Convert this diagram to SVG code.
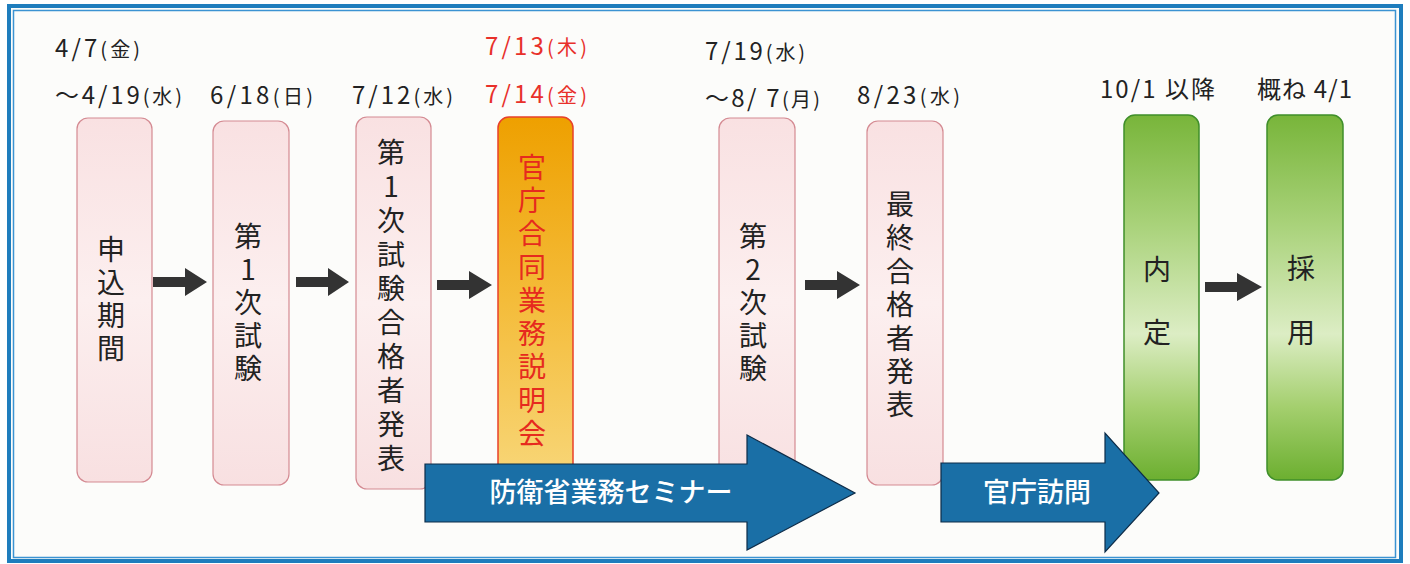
<svg xmlns="http://www.w3.org/2000/svg" width="1410" height="564" viewBox="0 0 1410 564">
<style>
.date{font-family:"Noto Sans CJK JP","Noto Sans",sans-serif;font-size:24px;fill:#222}
.date .wd{font-size:20px}
.red{fill:#e8302a}
.vt{font-family:"Noto Sans CJK JP",sans-serif;font-size:28px;fill:#222;text-anchor:middle}
.vt.redt{fill:#e62a1e}
.pink{fill:url(#gPink);stroke:#d48a92;stroke-width:1.2}
.orange{fill:url(#gOrange);stroke:#e8402a;stroke-width:1.5}
.green{fill:url(#gGreen);stroke:#3f8f2a;stroke-width:1.5}
.sarrow{fill:#333}
.barrow{fill:#1a6fa6;stroke:#0d2c48;stroke-width:1.2}
.blabel{font-family:"Noto Sans CJK JP",sans-serif;font-size:27px;font-weight:500;fill:#fff;text-anchor:middle}
</style>
<defs>
<linearGradient id="gPink" x1="0" y1="0" x2="0" y2="1">
<stop offset="0" stop-color="#f9e1e2"/>
<stop offset="0.5" stop-color="#fcefef"/>
<stop offset="1" stop-color="#f8e0e1"/>
</linearGradient>
<linearGradient id="gOrange" x1="0" y1="0" x2="0" y2="1">
<stop offset="0" stop-color="#eea000"/>
<stop offset="0.5" stop-color="#f4bc3a"/>
<stop offset="1" stop-color="#f8d77a"/>
</linearGradient>
<linearGradient id="gGreen" x1="0" y1="0" x2="0" y2="1">
<stop offset="0" stop-color="#78b53a"/>
<stop offset="0.3" stop-color="#a9d27a"/>
<stop offset="0.6" stop-color="#dcedc4"/>
<stop offset="0.8" stop-color="#a4cf6e"/>
<stop offset="1" stop-color="#6caf30"/>
</linearGradient>
</defs>

<rect x="0" y="0" width="1410" height="564" fill="#ffffff"/>
<rect x="9" y="6" width="1392" height="555" fill="#fcfcfa" stroke="#1e7dbd" stroke-width="4"/>
<rect x="13.5" y="10.5" width="1382" height="547" fill="none" stroke="#3b93d2" stroke-width="1.5"/>

<g id="dates">
<text class="date" x="55" y="57" textLength="85" lengthAdjust="spacing">4/7<tspan class="wd">(金)</tspan></text>
<text class="date" x="55" y="104" textLength="127" lengthAdjust="spacing">～4/19<tspan class="wd">(水)</tspan></text>
<text class="date" x="210" y="104" textLength="103" lengthAdjust="spacing">6/18<tspan class="wd">(日)</tspan></text>
<text class="date" x="352" y="104" textLength="101" lengthAdjust="spacing">7/12<tspan class="wd">(水)</tspan></text>
<text class="date red" x="485" y="55" textLength="102" lengthAdjust="spacing">7/13<tspan class="wd">(木)</tspan></text>
<text class="date red" x="485" y="103" textLength="102" lengthAdjust="spacing">7/14<tspan class="wd">(金)</tspan></text>
<text class="date" x="705" y="60" textLength="100" lengthAdjust="spacing">7/19<tspan class="wd">(水)</tspan></text>
<text class="date" x="705" y="107" textLength="115" lengthAdjust="spacing">～8/ 7<tspan class="wd">(月)</tspan></text>
<text class="date" x="857" y="104" textLength="103" lengthAdjust="spacing">8/23<tspan class="wd">(水)</tspan></text>
<text class="date" x="1100" y="98" textLength="115" lengthAdjust="spacing">10/1 以降</text>
<text class="date" x="1257" y="98" textLength="95" lengthAdjust="spacing">概ね 4/1</text>
</g>

<g id="node-moushikomi">
<rect class="pink" x="77" y="118" width="75" height="364" rx="11"/>
<text class="vt"><tspan x="111" y="260">申</tspan><tspan x="111" y="293">込</tspan><tspan x="111" y="326">期</tspan><tspan x="111" y="359">間</tspan></text>
</g>

<g id="node-shiken1">
<rect class="pink" x="213" y="121" width="76" height="364" rx="11"/>
<text class="vt"><tspan x="248" y="247">第</tspan><tspan x="248" y="280">1</tspan><tspan x="248" y="313">次</tspan><tspan x="248" y="346">試</tspan><tspan x="248" y="379">験</tspan></text>
</g>

<g id="node-goukaku1">
<rect class="pink" x="356" y="117" width="75" height="372" rx="11"/>
<text class="vt"><tspan x="391" y="163">第</tspan><tspan x="391" y="197">1</tspan><tspan x="391" y="231">次</tspan><tspan x="391" y="265">試</tspan><tspan x="391" y="299">験</tspan><tspan x="391" y="333">合</tspan><tspan x="391" y="367">格</tspan><tspan x="391" y="401">者</tspan><tspan x="391" y="435">発</tspan><tspan x="391" y="469">表</tspan></text>
</g>

<g id="node-setsumeikai">
<rect class="orange" x="498" y="117" width="75" height="368" rx="11"/>
<text class="vt redt"><tspan x="532" y="178">官</tspan><tspan x="532" y="211">庁</tspan><tspan x="532" y="244">合</tspan><tspan x="532" y="278">同</tspan><tspan x="532" y="311">業</tspan><tspan x="532" y="344">務</tspan><tspan x="532" y="377">説</tspan><tspan x="532" y="411">明</tspan><tspan x="532" y="444">会</tspan></text>
</g>

<g id="node-shiken2">
<rect class="pink" x="719" y="118" width="76" height="368" rx="11"/>
<text class="vt"><tspan x="753" y="247">第</tspan><tspan x="753" y="280">2</tspan><tspan x="753" y="313">次</tspan><tspan x="753" y="346">試</tspan><tspan x="753" y="379">験</tspan></text>
</g>

<g id="node-saishu">
<rect class="pink" x="867" y="121" width="76" height="364" rx="11"/>
<text class="vt"><tspan x="900" y="215">最</tspan><tspan x="900" y="248">終</tspan><tspan x="900" y="282">合</tspan><tspan x="900" y="315">格</tspan><tspan x="900" y="349">者</tspan><tspan x="900" y="382">発</tspan><tspan x="900" y="415">表</tspan></text>
</g>

<g id="node-naitei">
<rect class="green" x="1124" y="115" width="75" height="365" rx="11"/>
<text class="vt"><tspan x="1157" y="280">内</tspan><tspan x="1157" y="343">定</tspan></text>
</g>

<g id="node-saiyou">
<rect class="green" x="1267" y="115" width="76" height="365" rx="11"/>
<text class="vt"><tspan x="1301" y="279">採</tspan><tspan x="1301" y="343">用</tspan></text>
</g>

<g id="connectors">
<path class="sarrow" d="M153 277 H185 V268 L207 282 L185 296 V287 H153 Z"/>
<path class="sarrow" d="M296 277 H328 V268 L349 282 L328 296 V287 H296 Z"/>
<path class="sarrow" d="M437 280 H469 V271 L492 285 L469 299 V290 H437 Z"/>
<path class="sarrow" d="M805 280 H837 V271 L860 285 L837 299 V290 H805 Z"/>
<path class="sarrow" d="M1205 282 H1237 V273 L1262 287 L1237 301 V292 H1205 Z"/>
<path class="barrow" d="M425 464 H747 V435 L855 493 L747 550 V522 H425 Z"/>
<text class="blabel" x="611" y="502">防衛省業務セミナー</text>
<path class="barrow" d="M941 463 H1105 V433 L1159 493 L1105 552 V522 H941 Z"/>
<text class="blabel" x="1037" y="502">官庁訪問</text>
</g>
</svg>
